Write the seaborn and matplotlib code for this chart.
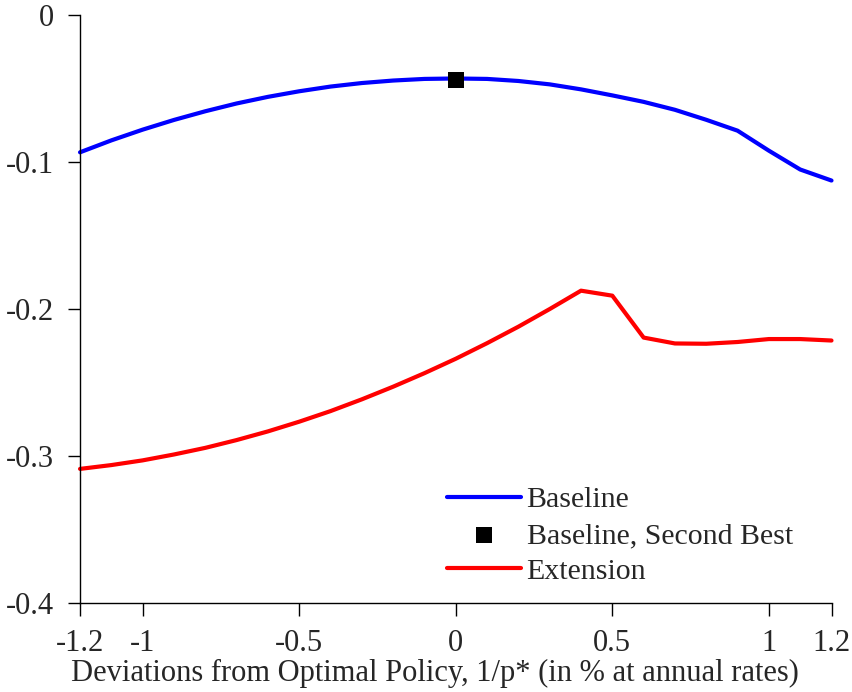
import matplotlib
matplotlib.use("Agg")
import matplotlib.pyplot as plt
import pandas as pd
import seaborn as sns

# deviations from optimal policy (percent, annual rates)
x_vals = [-1.2, -1.1, -1.0, -0.9, -0.8, -0.7, -0.6, -0.5, -0.4, -0.3, -0.2, -0.1,
          0.0, 0.1, 0.2, 0.3, 0.4, 0.5, 0.6, 0.7, 0.8, 0.9, 1.0, 1.1, 1.2]

baseline = [-0.0935, -0.0854, -0.0781, -0.0715, -0.0656, -0.0603, -0.0558, -0.0520,
            -0.0488, -0.0464, -0.0447, -0.0436, -0.0433, -0.0436, -0.0450, -0.0473,
            -0.0507, -0.0548, -0.0592, -0.0646, -0.0714, -0.0788, -0.0924, -0.1052,
            -0.1127]

extension = [-0.3088, -0.3062, -0.3030, -0.2990, -0.2945, -0.2892, -0.2833, -0.2767,
             -0.2695, -0.2615, -0.2529, -0.2437, -0.2339, -0.2233, -0.2121, -0.2001,
             -0.1876, -0.1910, -0.2195, -0.2235, -0.2237, -0.2225, -0.2205, -0.2205,
             -0.2215]

second_best_x = [0.0]
second_best_y = [-0.044]

x_ticks = [-1.2, -1, -0.5, 0, 0.5, 1, 1.2]
x_tick_labels = ["-1.2", "-1", "-0.5", "0", "0.5", "1", "1.2"]
y_ticks = [0, -0.1, -0.2, -0.3, -0.4]
y_tick_labels = ["0", "-0.1", "-0.2", "-0.3", "-0.4"]


def main():
    sns.set_style("ticks")
    plt.rcParams["font.family"] = ["Liberation Serif", "DejaVu Serif"]

    df = pd.DataFrame({
        "x": x_vals * 2,
        "y": baseline + extension,
        "series": ["Baseline"] * len(x_vals) + ["Extension"] * len(x_vals),
    })
    sb = pd.DataFrame({"x": second_best_x, "y": second_best_y})

    fig = plt.figure(figsize=(8.53, 6.92), dpi=100)
    ax = fig.add_axes([0.0938, 0.1286, 0.881, 0.850])

    sns.lineplot(data=df[df.series == "Baseline"], x="x", y="y", color="#0000ff",
                 linewidth=3, ax=ax, label="Baseline")
    sns.scatterplot(data=sb, x="x", y="y", marker="s", color="black", s=130,
                    edgecolor="black", linewidth=0, ax=ax, zorder=5,
                    label="Baseline, Second Best")
    sns.lineplot(data=df[df.series == "Extension"], x="x", y="y", color="#ff0000",
                 linewidth=3, ax=ax, label="Extension")

    ax.set_xlim(-1.2, 1.2)
    ax.set_ylim(-0.4, 0)
    ax.set_xticks(x_ticks)
    ax.set_xticklabels(x_tick_labels)
    ax.set_yticks(y_ticks)
    ax.set_yticklabels(y_tick_labels)
    ax.tick_params(axis="both", labelsize=22, length=9, width=1, color="black",
                   direction="out")
    ax.tick_params(axis="x", pad=10)
    ax.tick_params(axis="y", pad=10)
    ax.set_xlabel("Deviations from Optimal Policy, 1/p* (in % at annual rates)",
                  fontsize=22)
    ax.xaxis.set_label_coords(0.472, -0.095)
    ax.set_ylabel("")
    sns.despine(ax=ax)
    for s in ["left", "bottom"]:
        ax.spines[s].set_color("black")
        ax.spines[s].set_linewidth(1)
    for ln in ax.lines:
        ln.set_clip_on(False)

    ax.legend(loc="lower left", bbox_to_anchor=(0.489, 0.031), frameon=False,
              fontsize=21.5, handlelength=2.45, handletextpad=0.2,
              labelspacing=0.3, borderaxespad=0, borderpad=0)

    fig.savefig("out.png", dpi=100)


if __name__ == "__main__":
    main()
